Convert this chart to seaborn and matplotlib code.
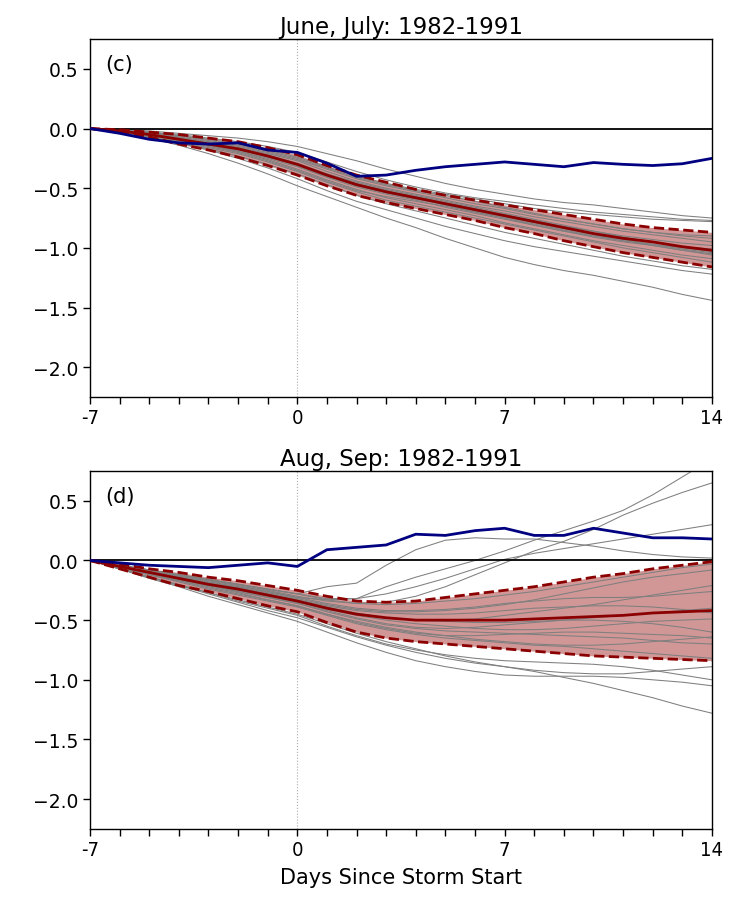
import numpy as np
import pandas as pd
import matplotlib
matplotlib.use("Agg")
import matplotlib.pyplot as plt
import seaborn as sns

sns.set_style("ticks")
plt.rcParams['font.family'] = ['DejaVu Sans']
plt.rcParams['text.color'] = 'black'
plt.rcParams['axes.labelcolor'] = 'black'
plt.rcParams['xtick.color'] = 'black'
plt.rcParams['ytick.color'] = 'black'

days = list(range(-7, 15))
xtick_labels = ["-7", "0", "7", "14"]
xtick_pos = [-7, 0, 7, 14]
titles = ["June, July: 1982-1991", "Aug, Sep: 1982-1991"]
panel_labels = ["(c)", "(d)"]
xlabel = "Days Since Storm Start"

# ---- Panel (c) ----
obs_c = [0, -0.04, -0.09, -0.12, -0.13, -0.12, -0.18, -0.20, -0.29, -0.40, -0.39, -0.35,
         -0.32, -0.30, -0.28, -0.30, -0.32, -0.285, -0.30, -0.31, -0.295, -0.25]
mean_c = [0, -0.02, -0.05, -0.09, -0.13, -0.17, -0.23, -0.30, -0.39, -0.47, -0.53, -0.58,
          -0.63, -0.68, -0.73, -0.78, -0.83, -0.88, -0.92, -0.95, -0.99, -1.02]
upper_c = [0, -0.01, -0.03, -0.05, -0.08, -0.11, -0.16, -0.22, -0.31, -0.39, -0.45, -0.51,
           -0.56, -0.60, -0.64, -0.68, -0.72, -0.76, -0.80, -0.83, -0.85, -0.87]
lower_c = [0, -0.03, -0.07, -0.13, -0.18, -0.24, -0.31, -0.39, -0.48, -0.56, -0.62, -0.67,
           -0.72, -0.77, -0.83, -0.88, -0.94, -0.99, -1.04, -1.08, -1.12, -1.16]
ens_c = [
    [0, -0.01, -0.02, -0.04, -0.06, -0.08, -0.11, -0.15, -0.21, -0.27, -0.34, -0.40, -0.46, -0.51, -0.55, -0.59, -0.62, -0.64, -0.67, -0.70, -0.73, -0.75],
    [0, -0.01, -0.03, -0.05, -0.08, -0.11, -0.15, -0.20, -0.28, -0.36, -0.43, -0.49, -0.54, -0.58, -0.61, -0.64, -0.67, -0.70, -0.72, -0.74, -0.76, -0.77],
    [0, -0.03, -0.08, -0.14, -0.21, -0.29, -0.38, -0.48, -0.57, -0.66, -0.75, -0.83, -0.92, -1.00, -1.08, -1.14, -1.19, -1.23, -1.28, -1.33, -1.39, -1.44],
    [0, -0.03, -0.07, -0.12, -0.18, -0.25, -0.33, -0.42, -0.52, -0.61, -0.68, -0.75, -0.82, -0.88, -0.94, -0.99, -1.03, -1.07, -1.11, -1.15, -1.19, -1.22],
    [0, -0.03, -0.07, -0.12, -0.17, -0.23, -0.30, -0.38, -0.47, -0.56, -0.63, -0.69, -0.75, -0.81, -0.87, -0.92, -0.97, -1.02, -1.07, -1.11, -1.15, -1.18],
    [0, -0.02, -0.05, -0.09, -0.13, -0.18, -0.24, -0.31, -0.40, -0.48, -0.54, -0.59, -0.64, -0.69, -0.74, -0.79, -0.84, -0.89, -0.93, -0.97, -1.00, -1.03],
    [0, -0.02, -0.04, -0.08, -0.12, -0.16, -0.21, -0.27, -0.36, -0.44, -0.50, -0.55, -0.60, -0.65, -0.69, -0.74, -0.78, -0.82, -0.86, -0.89, -0.92, -0.95],
    [0, -0.02, -0.06, -0.10, -0.14, -0.19, -0.26, -0.34, -0.43, -0.51, -0.58, -0.63, -0.68, -0.73, -0.79, -0.84, -0.89, -0.94, -0.98, -1.02, -1.06, -1.09],
    [0, -0.01, -0.04, -0.07, -0.11, -0.15, -0.20, -0.26, -0.34, -0.42, -0.48, -0.53, -0.58, -0.63, -0.67, -0.72, -0.76, -0.80, -0.84, -0.87, -0.90, -0.92],
    [0, -0.02, -0.05, -0.10, -0.15, -0.20, -0.27, -0.35, -0.44, -0.52, -0.57, -0.61, -0.65, -0.70, -0.75, -0.81, -0.86, -0.91, -0.95, -0.98, -1.02, -1.05],
    [0, -0.02, -0.05, -0.08, -0.12, -0.16, -0.22, -0.29, -0.38, -0.46, -0.52, -0.58, -0.64, -0.70, -0.75, -0.80, -0.85, -0.90, -0.94, -0.98, -1.02, -1.06],
    [0, -0.01, -0.03, -0.06, -0.10, -0.14, -0.19, -0.25, -0.33, -0.41, -0.47, -0.52, -0.56, -0.61, -0.66, -0.71, -0.76, -0.80, -0.84, -0.87, -0.89, -0.90],
    [0, -0.03, -0.06, -0.11, -0.16, -0.21, -0.28, -0.36, -0.45, -0.53, -0.60, -0.65, -0.70, -0.75, -0.80, -0.85, -0.90, -0.95, -1.00, -1.04, -1.08, -1.12],
    [0, -0.02, -0.05, -0.09, -0.13, -0.17, -0.23, -0.31, -0.40, -0.47, -0.52, -0.57, -0.62, -0.67, -0.72, -0.77, -0.82, -0.86, -0.90, -0.93, -0.96, -0.98],
    [0, -0.01, -0.04, -0.08, -0.12, -0.17, -0.23, -0.30, -0.38, -0.45, -0.51, -0.56, -0.61, -0.66, -0.71, -0.76, -0.81, -0.86, -0.91, -0.95, -0.99, -1.01],
    [0, -0.02, -0.05, -0.09, -0.14, -0.19, -0.25, -0.32, -0.41, -0.49, -0.55, -0.60, -0.66, -0.71, -0.76, -0.81, -0.86, -0.90, -0.94, -0.97, -1.01, -1.04],
    [0, -0.01, -0.03, -0.06, -0.09, -0.13, -0.18, -0.24, -0.32, -0.40, -0.46, -0.51, -0.55, -0.59, -0.63, -0.67, -0.70, -0.72, -0.74, -0.76, -0.77, -0.78],
]

# ---- Panel (d) ----
obs_d = [0, -0.02, -0.04, -0.05, -0.06, -0.04, -0.02, -0.05, 0.09, 0.11, 0.13, 0.22,
         0.21, 0.25, 0.27, 0.21, 0.21, 0.27, 0.23, 0.19, 0.19, 0.18]
mean_d = [0, -0.05, -0.10, -0.15, -0.20, -0.24, -0.29, -0.34, -0.40, -0.45, -0.48, -0.50,
          -0.50, -0.50, -0.50, -0.49, -0.48, -0.47, -0.46, -0.44, -0.43, -0.42]
upper_d = [0, -0.03, -0.07, -0.10, -0.14, -0.17, -0.21, -0.25, -0.30, -0.34, -0.35, -0.34,
           -0.31, -0.28, -0.25, -0.22, -0.18, -0.14, -0.11, -0.07, -0.04, -0.01]
lower_d = [0, -0.07, -0.14, -0.21, -0.26, -0.32, -0.38, -0.43, -0.52, -0.60, -0.65, -0.68,
           -0.70, -0.72, -0.74, -0.76, -0.78, -0.80, -0.81, -0.82, -0.83, -0.84]
ens_d = [
    [0, -0.04, -0.08, -0.12, -0.16, -0.20, -0.24, -0.28, -0.32, -0.32, -0.22, -0.14, -0.07, 0.00, 0.08, 0.17, 0.25, 0.33, 0.42, 0.55, 0.70, 0.85],
    [0, -0.04, -0.08, -0.12, -0.16, -0.20, -0.25, -0.30, -0.34, -0.36, -0.35, -0.30, -0.22, -0.12, -0.02, 0.08, 0.16, 0.26, 0.38, 0.48, 0.57, 0.65],
    [0, -0.04, -0.08, -0.12, -0.16, -0.20, -0.24, -0.28, -0.22, -0.19, -0.04, 0.09, 0.17, 0.19, 0.18, 0.18, 0.15, 0.12, 0.08, 0.05, 0.03, 0.02],
    [0, -0.04, -0.09, -0.13, -0.17, -0.21, -0.26, -0.31, -0.33, -0.32, -0.28, -0.22, -0.15, -0.07, 0.01, 0.06, 0.10, 0.14, 0.18, 0.22, 0.26, 0.30],
    [0, -0.07, -0.14, -0.21, -0.28, -0.35, -0.42, -0.48, -0.56, -0.64, -0.71, -0.77, -0.82, -0.86, -0.89, -0.93, -0.98, -1.03, -1.09, -1.15, -1.22, -1.28],
    [0, -0.07, -0.15, -0.22, -0.30, -0.37, -0.44, -0.51, -0.60, -0.69, -0.77, -0.84, -0.89, -0.93, -0.96, -0.97, -0.97, -0.97, -0.98, -1.00, -1.02, -1.05],
    [0, -0.07, -0.14, -0.21, -0.27, -0.34, -0.40, -0.46, -0.55, -0.63, -0.70, -0.75, -0.79, -0.82, -0.84, -0.85, -0.86, -0.87, -0.89, -0.92, -0.96, -1.00],
    [0, -0.07, -0.14, -0.20, -0.27, -0.33, -0.39, -0.45, -0.53, -0.61, -0.68, -0.74, -0.80, -0.85, -0.89, -0.92, -0.94, -0.95, -0.95, -0.93, -0.91, -0.89],
    [0, -0.05, -0.10, -0.15, -0.20, -0.24, -0.29, -0.34, -0.40, -0.45, -0.48, -0.50, -0.51, -0.52, -0.52, -0.51, -0.50, -0.48, -0.46, -0.44, -0.42, -0.40],
    [0, -0.04, -0.08, -0.12, -0.16, -0.20, -0.24, -0.28, -0.33, -0.36, -0.37, -0.36, -0.34, -0.32, -0.29, -0.26, -0.22, -0.18, -0.14, -0.10, -0.06, -0.03],
    [0, -0.06, -0.12, -0.18, -0.24, -0.29, -0.34, -0.39, -0.46, -0.53, -0.58, -0.62, -0.65, -0.67, -0.69, -0.71, -0.72, -0.74, -0.76, -0.78, -0.80, -0.82],
    [0, -0.05, -0.10, -0.15, -0.19, -0.23, -0.28, -0.33, -0.39, -0.44, -0.48, -0.50, -0.50, -0.49, -0.46, -0.43, -0.40, -0.37, -0.33, -0.29, -0.25, -0.21],
    [0, -0.05, -0.11, -0.16, -0.21, -0.26, -0.31, -0.36, -0.43, -0.49, -0.54, -0.57, -0.59, -0.60, -0.61, -0.62, -0.63, -0.64, -0.65, -0.67, -0.69, -0.70],
    [0, -0.05, -0.09, -0.14, -0.19, -0.23, -0.28, -0.33, -0.38, -0.42, -0.44, -0.45, -0.45, -0.44, -0.42, -0.40, -0.39, -0.38, -0.38, -0.39, -0.41, -0.44],
    [0, -0.05, -0.10, -0.16, -0.21, -0.26, -0.31, -0.36, -0.42, -0.48, -0.53, -0.56, -0.57, -0.56, -0.54, -0.52, -0.50, -0.50, -0.51, -0.53, -0.56, -0.60],
    [0, -0.04, -0.09, -0.13, -0.18, -0.22, -0.26, -0.31, -0.36, -0.40, -0.42, -0.42, -0.41, -0.39, -0.36, -0.34, -0.32, -0.31, -0.31, -0.30, -0.28, -0.26],
    [0, -0.06, -0.11, -0.17, -0.22, -0.27, -0.33, -0.38, -0.45, -0.51, -0.56, -0.60, -0.63, -0.66, -0.68, -0.70, -0.71, -0.71, -0.70, -0.68, -0.66, -0.64],
    [0, -0.05, -0.10, -0.14, -0.18, -0.22, -0.27, -0.32, -0.37, -0.41, -0.43, -0.43, -0.42, -0.40, -0.37, -0.33, -0.28, -0.23, -0.18, -0.14, -0.11, -0.08],
    [0, -0.06, -0.12, -0.17, -0.23, -0.28, -0.33, -0.38, -0.45, -0.52, -0.57, -0.61, -0.63, -0.63, -0.62, -0.61, -0.60, -0.60, -0.61, -0.62, -0.63, -0.65],
    [0, -0.05, -0.10, -0.15, -0.20, -0.25, -0.30, -0.35, -0.41, -0.46, -0.50, -0.53, -0.55, -0.57, -0.58, -0.58, -0.57, -0.55, -0.53, -0.51, -0.50, -0.49],
]

panels = [
    (obs_c, mean_c, upper_c, lower_c, ens_c),
    (obs_d, mean_d, upper_d, lower_d, ens_d),
]

fig = plt.figure(figsize=(7.43, 9.04), dpi=100)
ax_rects = [[0.1211, 0.5597, 0.8371, 0.3960], [0.1211, 0.0819, 0.8371, 0.3960]]

for i, (obs, mean, upper, lower, ens) in enumerate(panels):
    ax = fig.add_axes(ax_rects[i])
    long = pd.DataFrame(
        [(m, d, v) for m, series in enumerate(ens) for d, v in zip(days, series)],
        columns=["member", "day", "value"],
    )
    ax.fill_between(days, lower, upper, color="#c98585", alpha=0.85, lw=0, zorder=1)
    sns.lineplot(data=long, x="day", y="value", units="member", estimator=None,
                 color="#7f7f7f", lw=0.75, ax=ax, zorder=2, legend=False)
    ax.axhline(0, color="black", lw=1.3, zorder=2.5)
    ax.axvline(0, color="#aaaaaa", lw=0.8, ls=":", zorder=1.5)
    sns.lineplot(x=days, y=upper, color="darkred", lw=2, ls="--", ax=ax, zorder=3)
    sns.lineplot(x=days, y=lower, color="darkred", lw=2, ls="--", ax=ax, zorder=3)
    sns.lineplot(x=days, y=mean, color="darkred", lw=2, ax=ax, zorder=3.5)
    sns.lineplot(x=days, y=obs, color="navy", lw=2, ax=ax, zorder=4)

    ax.set_xlim(-7, 14)
    ax.set_ylim(-2.25, 0.75)
    ax.set_xticks(days, minor=False)
    ax.set_xticklabels([xtick_labels[xtick_pos.index(d)] if d in xtick_pos else "" for d in days])
    ax.set_yticks([-2.0, -1.5, -1.0, -0.5, 0.0, 0.5])
    ax.set_yticklabels(["\u22122.0", "\u22121.5", "\u22121.0", "\u22120.5", "0.0", "0.5"])
    ax.tick_params(axis="y", labelsize=13.5, length=5, width=1, direction="out")
    ax.tick_params(axis="x", labelsize=14.5, length=5, width=1, direction="out", pad=3)
    for lab in ax.get_xticklabels():
        lab.set_fontstretch("condensed")
    for s in ax.spines.values():
        s.set_visible(True)
        s.set_linewidth(1.0)
        s.set_color("black")
    ax.set_title(titles[i], fontsize=16.5, pad=4, color="black")
    ax.text(0.025, 0.93, panel_labels[i], transform=ax.transAxes, fontsize=15,
            ha="left", va="center", color="black")
    ax.set_ylabel("")
    if i == 1:
        ax.set_xlabel(xlabel, fontsize=15, labelpad=6, color="black")
    else:
        ax.set_xlabel("")

fig.savefig("out.png", dpi=100)
